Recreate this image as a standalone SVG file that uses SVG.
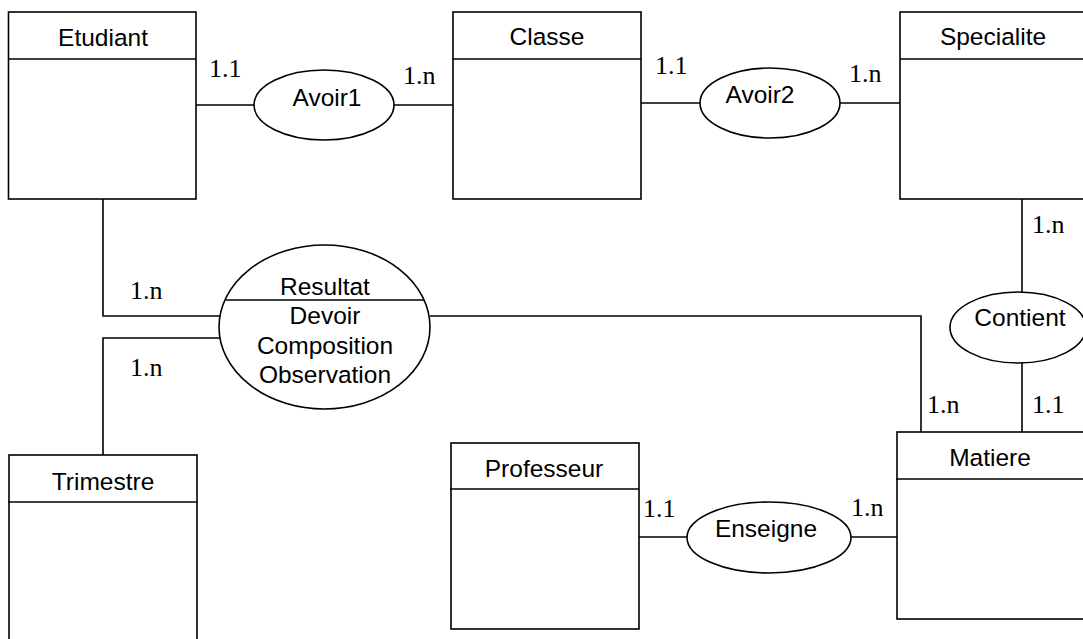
<svg xmlns="http://www.w3.org/2000/svg" width="1083" height="639" viewBox="0 0 1083 639">
<style>
.box{fill:#fff;stroke:#000;stroke-width:1.6}
.ln{fill:none;stroke:#000;stroke-width:1.6}
.t{font-family:"Liberation Sans",Arial,sans-serif;font-size:24.5px;fill:#000;text-anchor:middle}
.c{font-family:"Liberation Serif","Times New Roman",serif;font-size:26px;fill:#000}
</style>
<rect width="1083" height="639" fill="#fff"/>
<g id="connectors">
<line class="ln" x1="196" y1="105" x2="254" y2="105"/>
<line class="ln" x1="394" y1="105" x2="453" y2="105"/>
<line class="ln" x1="641" y1="103" x2="700" y2="103"/>
<line class="ln" x1="840" y1="103" x2="900" y2="103"/>
<line class="ln" x1="1022" y1="199" x2="1022" y2="292"/>
<line class="ln" x1="1022" y1="363" x2="1022" y2="432"/>
<polyline class="ln" points="103,199 103,316 220,316"/>
<polyline class="ln" points="220,338 103,338 103,455"/>
<polyline class="ln" points="430,316 921,316 921,432"/>
<line class="ln" x1="639" y1="537" x2="687" y2="537"/>
<line class="ln" x1="851" y1="537" x2="897" y2="537"/>
</g>
<g id="labels">
<text class="c" x="209" y="77">1.1</text>
<text class="c" x="403" y="84">1.n</text>
<text class="c" x="655" y="74">1.1</text>
<text class="c" x="849" y="82">1.n</text>
<text class="c" x="1032" y="233">1.n</text>
<text class="c" x="130" y="299">1.n</text>
<text class="c" x="130" y="376">1.n</text>
<text class="c" x="927" y="413">1.n</text>
<text class="c" x="1032" y="413">1.1</text>
<text class="c" x="643" y="517">1.1</text>
<text class="c" x="851" y="516">1.n</text>
</g>
<g id="Etudiant">
<rect class="box" x="8.5" y="12" width="187.5" height="187"/>
<line class="ln" x1="8.5" y1="59" x2="196" y2="59"/>
<text class="t" x="103" y="46">Etudiant</text>
</g>
<g id="Classe">
<rect class="box" x="453" y="12" width="188" height="187"/>
<line class="ln" x1="452" y1="59" x2="641" y2="59"/>
<text class="t" x="547" y="45">Classe</text>
</g>
<g id="Specialite">
<rect class="box" x="900" y="12" width="200" height="187"/>
<line class="ln" x1="900" y1="59" x2="1083" y2="59"/>
<text class="t" x="993" y="45">Specialite</text>
</g>
<g id="Avoir1">
<ellipse class="box" cx="324" cy="105" rx="70" ry="35"/>
<text class="t" x="327" y="106">Avoir1</text>
</g>
<g id="Avoir2">
<ellipse class="box" cx="770" cy="103" rx="70" ry="35"/>
<text class="t" x="760" y="103">Avoir2</text>
</g>
<g id="Resultat">
<ellipse class="box" cx="324.5" cy="327" rx="105.5" ry="82"/>
<line class="ln" x1="226" y1="300" x2="424" y2="300"/>
<text class="t" x="325" y="295">Resultat</text>
<text class="t" x="325" y="324">Devoir</text>
<text class="t" x="325" y="354">Composition</text>
<text class="t" x="325" y="383">Observation</text>
</g>
<g id="Contient">
<ellipse class="box" cx="1018" cy="327.5" rx="68" ry="35.5"/>
<text class="t" x="1020" y="326">Contient</text>
</g>
<g id="Trimestre">
<rect class="box" x="9" y="455" width="188" height="200"/>
<line class="ln" x1="8" y1="502" x2="197" y2="502"/>
<text class="t" x="103" y="490">Trimestre</text>
</g>
<g id="Professeur">
<rect class="box" x="451" y="443" width="188" height="186"/>
<line class="ln" x1="450" y1="489" x2="639" y2="489"/>
<text class="t" x="544" y="477">Professeur</text>
</g>
<g id="Enseigne">
<ellipse class="box" cx="769" cy="537.5" rx="82" ry="35.5"/>
<text class="t" x="766" y="537">Enseigne</text>
</g>
<g id="Matiere">
<rect class="box" x="897" y="432" width="200" height="187"/>
<line class="ln" x1="896" y1="479" x2="1083" y2="479"/>
<text class="t" x="990" y="466">Matiere</text>
</g>
</svg>
